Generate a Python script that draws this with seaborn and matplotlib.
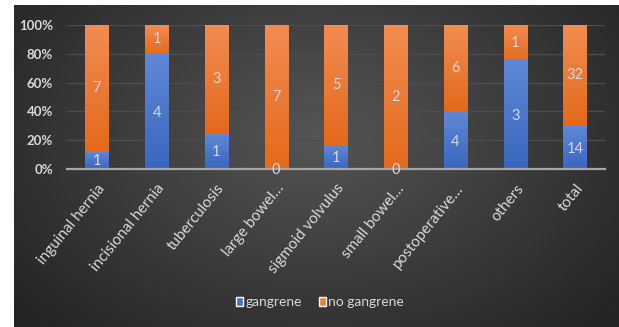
import numpy as np
import pandas as pd
import matplotlib
matplotlib.use("Agg")
import matplotlib.pyplot as plt
import seaborn as sns
from matplotlib.patches import Patch
from matplotlib.colors import LinearSegmentedColormap

categories = ["inguinal hernia", "incisional hernia", "tuberculosis", "large bowel…",
              "sigmoid volvulus", "small bowel…", "postoperative…", "others", "total"]
gangrene = [1, 4, 1, 0, 1, 0, 4, 3, 14]
no_gangrene = [7, 1, 3, 7, 5, 2, 6, 1, 32]
yticks = [0, 0.2, 0.4, 0.6, 0.8, 1.0]
ytick_labels = ["0%", "20%", "40%", "60%", "80%", "100%"]

sns.set_style("white")
plt.rcParams['font.family'] = ['Lato', 'DejaVu Sans']

W, H = 619, 327
fig = plt.figure(figsize=(W / 100, H / 100), dpi=100, facecolor="white")

# background panel with radial gradient
bg = fig.add_axes([14 / W, 0, 605 / W, 322 / H])
yy, xx = np.mgrid[0:200, 0:400]
cx, cy = 200, 80
r = np.sqrt(((xx - cx) / 260) ** 2 + ((yy - cy) / 170) ** 2)
r = np.clip(r, 0, 1)
c0, c1 = 0x55, 0x24
val = (c0 + (c1 - c0) * r) / 255.0
img = np.dstack([val, val, val])
bg.imshow(img, aspect="auto", extent=[0, 1, 0, 1])
bg.set_axis_off()

ax = fig.add_axes([67 / W, 1 - 169 / H, (605 - 67) / W, (169 - 25) / H])
ax.set_facecolor("none")

tot = np.array(gangrene) + np.array(no_gangrene)
frac_g = np.array(gangrene) / tot
df = pd.DataFrame({"cat": categories, "full": np.ones(len(categories)), "g": frac_g})

blue = "#4472C4"
orange = "#ED7D31"
sns.barplot(data=df, x="cat", y="full", color=orange, width=0.39, ax=ax, saturation=1,
            zorder=3, edgecolor="none", linewidth=0)
n_or = len(ax.patches)
sns.barplot(data=df, x="cat", y="g", color=blue, width=0.39, ax=ax, saturation=1,
            zorder=4, edgecolor="none", linewidth=0)

ax.set_xlim(-0.5, len(categories) - 0.5)
ax.set_ylim(0, 1)

# vertical gradient shading on each bar segment
cm_or = LinearSegmentedColormap.from_list("o", ["#E36A1C", "#F28C52"])
cm_bl = LinearSegmentedColormap.from_list("b", ["#3A66BE", "#5F88D6"])
grad = np.linspace(0, 1, 64).reshape(-1, 1)
for k, p in enumerate(ax.patches):
    x0, y0 = p.get_x(), p.get_y()
    w, h = p.get_width(), p.get_height()
    if h <= 0:
        continue
    if k < n_or:
        y0b = frac_g[k]
        cm, z = cm_or, 3.5
        im = ax.imshow(grad, cmap=cm, origin="lower", aspect="auto",
                       extent=[x0, x0 + w, y0b, y0 + h], zorder=z)
    else:
        cm, z = cm_bl, 4.5
        im = ax.imshow(grad, cmap=cm, origin="lower", aspect="auto",
                       extent=[x0, x0 + w, y0, y0 + h], zorder=z)
ax.set_xlim(-0.5, len(categories) - 0.5)
ax.set_ylim(0, 1)
ax.set_aspect("auto")

txt = "#d9d9d9"
for i, (g, n, f) in enumerate(zip(gangrene, no_gangrene, frac_g)):
    ax.text(i, f / 2 - 0.01, str(g), ha="center", va="center", color=txt, fontsize=10.5, zorder=6)
    ax.text(i, f + (1 - f) / 2, str(n), ha="center", va="center", color=txt, fontsize=10.5, zorder=6)

ax.set_yticks(yticks)
ax.set_yticklabels(ytick_labels, color=txt, fontsize=9.5, fontweight="bold")
ax.set_xticks(range(len(categories)))
ax.set_xticklabels(categories, rotation=51, ha="right", rotation_mode="anchor",
                   color=txt, fontsize=11)
for lab in ax.get_xticklabels():
    lab.set_x(lab.get_position()[0])
ax.tick_params(axis="x", length=0, pad=9)
ax.tick_params(axis="y", length=0, pad=10)
ax.yaxis.grid(True, color="#4c4c4c", linewidth=1, zorder=0)
ax.set_axisbelow(True)
for s in ["top", "right", "left"]:
    ax.spines[s].set_visible(False)
ax.spines["bottom"].set_color("#a6a6a6")
ax.spines["bottom"].set_linewidth(1.6)
ax.spines["bottom"].set_zorder(5)
ax.set_xlabel("")
ax.set_ylabel("")

handles = [Patch(facecolor=blue, label="gangrene"), Patch(facecolor=orange, label="no gangrene")]
leg = fig.legend(handles=handles, loc="center", bbox_to_anchor=(320 / W, 1 - 302 / H), ncol=2,
                 frameon=False, fontsize=10, labelcolor=txt, handlelength=0.55, handleheight=0.6,
                 handletextpad=0.15, columnspacing=1.2)

fig.savefig("out.png", dpi=100, facecolor="white")
